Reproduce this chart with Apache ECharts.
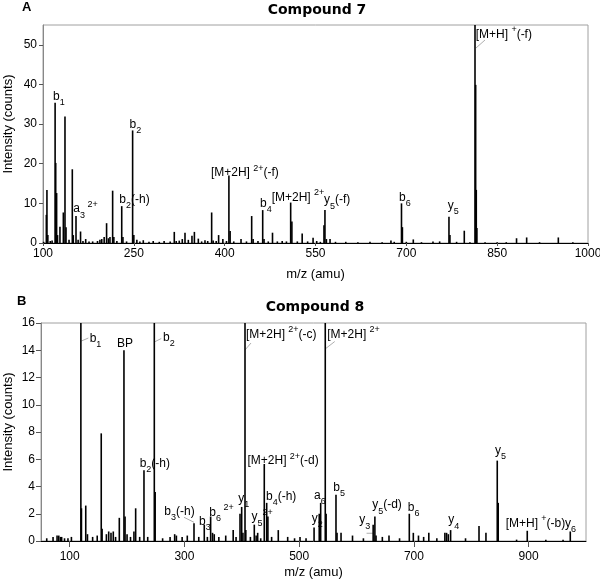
<!DOCTYPE html>
<html><head><meta charset="utf-8">
<script src="https://cdn.jsdelivr.net/npm/echarts@6/dist/echarts.min.js"></script>
<style>html,body{margin:0;padding:0;background:#fff}#c{width:600px;height:580px}</style>
</head><body><div id="c"></div>
<script>
// ---------- Panel A (Compound 7): [m/z, intensity] ----------
const peaksA = [
 [101,0.3],[105.5,7.1],[106.5,13.4],[108,2.0],[112,0.5],[115,0.6],[120,35.4],[121,20.2],[122.5,12.6],[124,2.0],
 [128,4.1],[133.6,7.7],[136.3,31.9],[138,4.0],[143,0.8],[148.4,18.6],[150,2.0],[154.5,6.8],[158,0.8],[162,2.9],
 [166,0.5],[170.5,1.0],[176,0.4],[182,0.4],[190,0.5],[194,0.8],[197,1.0],[201,1.5],[205,5.0],[208,1.2],
 [210.6,1.5],[215,13.2],[217,1.5],[222,0.5],[230,9.3],[232,1.5],[238,0.4],[248,28.4],[250,2.0],[255,0.8],
 [260,0.4],[265.6,0.7],[275,0.3],[282,0.5],[292,0.3],[300,0.5],[310,0.4],[316.8,2.8],[320,0.5],[325,0.6],
 [330,1.0],[334.5,2.6],[340,0.8],[346,1.8],[350,2.8],[356.5,1.1],[362,0.4],[367.5,0.7],[372,0.5],[378.5,7.7],
 [381,0.6],[386,0.5],[390,2.0],[397,1.0],[403,0.5],[407,17.0],[409,3.0],[415,0.4],[427,1.0],[436,0.4],
 [444.6,6.8],[447,1.0],[455,0.5],[462.8,8.3],[465,1.0],[472,0.4],[479,2.6],[487,0.4],[495,0.5],[502,0.4],
 [509,10.2],[511,5.4],[520,0.4],[528,2.4],[537,0.4],[546,1.3],[552,0.5],[558,0.3],[564,4.5],[565.6,8.3],
 [568,1.0],[574,1.0],[583,0.3],[600,0.3],[620,0.2],[640,0.3],[660,0.2],[674.6,0.6],[680,0.3],[692,10.0],
 [693.5,4.0],[700,0.3],[711.5,0.9],[725,0.2],[744,0.4],[755,0.4],[770.4,6.6],[772,2.0],[783,0.3],[795.7,3.1],
 [805,0.2],[813.4,60],[814.5,39.9],[815.5,13.4],[816.5,3.8],[830,0.2],[850,0.2],[865,0.2],[882,1.2],[898.7,1.4],
 [920,0.2],[951,1.4],[975,0.2]
];
const ticksXA = [100,250,400,550,700,850,1000];
const ticksYA = [0,10,20,30,40,50];
const annMzA  = [120, 248, 407, 230, 154.5, 462.8, 509, 565.6, 692, 770.4, 813.4];
const annIntA = [35.4, 28.4, 17.0, 9.3, 6.8, 8.3, 10.2, 8.3, 10.0, 6.6, 60];
const annTextA = ['b{s|1}','b{s|2}','[M+2H] {p|2+}(-f)','b{s|2}(-h)','a{s|3}{p| 2+}','b{s|4}','[M+2H] {p|2+}','y{s|5}(-f)','b{s|6}','y{s|5}','[M+H] {p|+}(-f)'];

// ---------- Panel B (Compound 8): [m/z, intensity] ----------
const peaksB = [
 [60,0.2],[71,0.3],[78,0.4],[81,0.4],[84,0.3],[86,0.3],[91,0.2],[97,0.2],[103,0.3],[119.5,30],
 [120.5,2.4],[128,2.6],[131,0.5],[140,0.3],[148,0.4],[155,7.9],[156.5,0.9],[164,0.5],[168,0.7],[172,0.6],
 [176,0.7],[180,0.3],[186.5,1.7],[194.6,14.0],[196.5,1.8],[200,0.5],[206,0.3],[212,0.7],[215,2.4],[222,0.3],
 [229.5,5.2],[236,0.3],[247.5,25],[249,3.6],[262,0.2],[275,0.3],[283,0.5],[286,0.4],[296,0.3],[305,0.4],
 [316.7,1.3],[325,0.3],[334.6,1.2],[340,0.3],[345.7,1.8],[349,0.6],[352,0.5],[360,0.3],[372,0.4],[385,0.8],
 [390,0.3],[396.9,2.0],[399.8,2.5],[402,0.6],[405.6,30],[407,0.8],[415,0.3],[421.8,1.2],[425,0.4],[427.7,0.6],
 [433,0.2],[439.2,5.65],[443.4,2.8],[445.5,1.8],[452,0.3],[463.6,0.8],[480,0.3],[492,0.2],[501.5,0.3],[512,0.2],
 [526,1.0],[535,2.0],[537.5,2.8],[545.5,35],[547,2.0],[564.2,3.4],[566,0.6],[573,0.6],[593,0.4],[612,0.2],
 [629,1.2],[632,1.8],[634,0.4],[645,0.3],[656.6,0.4],[675,0.2],[692,2.0],[699,0.6],[708,0.4],[717,0.3],
 [726,0.6],[740,0.2],[754,0.6],[757,0.6],[760,0.5],[764,0.8],[790,0.2],[813.5,1.1],[825.6,0.6],[845.3,5.9],
 [847,2.8],[879,0.1],[897.6,0.75],[930,0.1],[960,0.1],[972.6,0.7]
];
const ticksXB = [100,300,500,700,900];
const ticksYB = [0,2,4,6,8,10,12,14,16];
const annMzB  = [119.5, 194.6, 247.5, 405.6, 545.5, 439.2, 229.5, 316.7, 334.6, 345.7, 399.8, 421.8, 443.4, 537.5, 526, 564.2, 629, 632, 692, 764, 845.3, 897.6, 972.6];
const annIntB = [30, 14.0, 25, 30, 35, 5.65, 5.2, 1.3, 1.2, 1.8, 2.5, 1.2, 2.8, 2.8, 1.0, 3.4, 1.2, 1.8, 2.0, 0.8, 5.9, 0.75, 0.7];
const annTextB = ['b{s|1}','BP','b{s|2}','[M+2H] {p|2+}(-c)','[M+2H] {p|2+}','[M+2H] {p|2+}(-d)','b{s|2}(-h)','b{s|3}(-h)','b{s|3}','b{s|6}{p| 2+}','y{s|1}','y{s|5}{p|2+}','b{s|4}(-h)','a{s|6}','y{s|2}','b{s|5}','y{s|3}','y{s|5}(-d)','b{s|6}','y{s|4}','y{s|5}','[M+H] {p|+}(-b)','y{s|6}'];

// ---------- annotation placement (pixel offsets from peak top; optional leader line) ----------
const layoutA = [[-2,-6.4],[-3,-5.8],[-18,-2.6],[-2.4,-6.5],[-2.7,-7],[-2.6,-6.4],[-19,-5],[-1,-10],[-2.5,-5.8],[-1.3,-11],[0.7,9.5,[1,23,10,15]]];
const layoutB = [[8.8,15.6,[0.5,18,7.5,15]],[-7,-6.6],[8.7,14.6,[0,19,7,15.5]],[1,12,[0,27,6,20]],[2,12,[0.5,25.5,9.5,18.5]],
 [-16.8,-3],[-4.3,-6.6],[-29.7,-12,[-10,-6,0,-1]],[-5.3,-3.4],[-1.4,-3.6],[-3.3,-8],[-2.7,-7.5],[-0.7,-6.5],[-6.6,-7.6],[-2.4,-8.4],
 [-2.7,-7],[-14,-4.5,[-6.6,8.6,0,8.6]],[-2.7,-11.3],[-1.6,-6],[-2.3,-10],[-2.2,-10.4],[-21.6,-6.8],[-5.3,-7.5]];

const FONT = '"Liberation Sans", Arial, sans-serif';
const RICH = {
  s: { font: '9px ' + FONT, fill: '#000', padding: [12, 0, 0, 0] },
  p: { font: '9px ' + FONT, fill: '#000', padding: [0, 0, 10, 0] }
};

function annRender(texts, layout, yMax) {
  return function (params, api) {
    const i = params.dataIndex;
    const p = api.coord([api.value(0), Math.min(api.value(1), yMax)]);
    const L = layout[i];
    const children = [{
      type: 'text', x: p[0] + L[0], y: p[1] + L[1], silent: true,
      style: { text: texts[i], fill: '#000', font: '12px ' + FONT, align: 'left', verticalAlign: 'middle', rich: RICH }
    }];
    if (L[2]) {
      children.push({ type: 'line', silent: true,
        shape: { x1: p[0] + L[2][0], y1: p[1] + L[2][1], x2: p[0] + L[2][2], y2: p[1] + L[2][3] },
        style: { stroke: '#999', lineWidth: 0.8 } });
    }
    return { type: 'group', children };
  };
}

function xAxisCfg(gi, min, max, ticks, tickLen, margin) {
  return {
    type: 'value', gridIndex: gi, min, max,
    name: 'm/z (amu)', nameLocation: 'middle', nameGap: 25,
    nameTextStyle: { fontFamily: FONT, fontSize: 13, color: '#000' },
    axisLine: { show: true, onZero: false, lineStyle: { color: '#000', width: 1 } },
    axisTick: { show: true, customValues: ticks, length: tickLen, lineStyle: { color: '#555' } },
    axisLabel: { customValues: ticks, margin, fontFamily: FONT, fontSize: 12, color: '#000', formatter: v => String(v) },
    splitLine: { show: false }
  };
}
function yAxisCfg(gi, max, ticks, tickLen) {
  return {
    type: 'value', gridIndex: gi, min: 0, max,
    axisLine: { show: true, lineStyle: { color: '#888', width: 1 } },
    axisTick: { show: true, customValues: ticks, length: tickLen, lineStyle: { color: '#555' } },
    axisLabel: { customValues: ticks, margin: 6, fontFamily: FONT, fontSize: 12, color: '#000', formatter: v => String(v) },
    splitLine: { show: false }
  };
}

const YMAX_A = 55, YMAX_B = 16;
const chart = echarts.init(document.getElementById('c'), null, { renderer: 'canvas' });
chart.setOption({
  animation: false,
  backgroundColor: '#fff',
  grid: [
    { left: 43, right: 12, top: 25, height: 218, show: true, borderColor: '#a0a0a0', borderWidth: 1, backgroundColor: 'transparent', containLabel: false, outerBoundsMode: 'none' },
    { left: 41, right: 14, top: 323, height: 218, show: true, borderColor: '#a0a0a0', borderWidth: 1, backgroundColor: 'transparent', containLabel: false, outerBoundsMode: 'none' }
  ],
  xAxis: [xAxisCfg(0, 100, 1000, ticksXA, 3, 5), xAxisCfg(1, 50, 1000, ticksXB, 6, 10)],
  yAxis: [yAxisCfg(0, YMAX_A, ticksYA, 4), yAxisCfg(1, YMAX_B, ticksYB, 5)],
  series: [
    { type: 'bar', xAxisIndex: 0, yAxisIndex: 0, data: peaksA, barWidth: 1.6, clip: true,
      itemStyle: { color: '#000' }, silent: true },
    { type: 'bar', xAxisIndex: 1, yAxisIndex: 1, data: peaksB, barWidth: 1.6, clip: true,
      itemStyle: { color: '#000' }, silent: true },
    { type: 'custom', xAxisIndex: 0, yAxisIndex: 0, clip: false, silent: true,
      data: annMzA.map((m, i) => [m, annIntA[i]]), renderItem: annRender(annTextA, layoutA, YMAX_A) },
    { type: 'custom', xAxisIndex: 1, yAxisIndex: 1, clip: false, silent: true,
      data: annMzB.map((m, i) => [m, annIntB[i]]), renderItem: annRender(annTextB, layoutB, YMAX_B) }
  ],
  graphic: [
    { type: 'text', x: 22, y: 1, style: { text: 'A', font: 'bold 13px ' + FONT, fill: '#000' } },
    { type: 'text', x: 17, y: 295, style: { text: 'B', font: 'bold 13px ' + FONT, fill: '#000' } },
    { type: 'text', x: 317, y: 10, style: { text: 'Compound 7', font: 'bold 14px "DejaVu Sans"', fill: '#000', align: 'center', verticalAlign: 'middle' } },
    { type: 'text', x: 315, y: 307, style: { text: 'Compound 8', font: 'bold 14px "DejaVu Sans"', fill: '#000', align: 'center', verticalAlign: 'middle' } },
    { type: 'text', x: 8, y: 124, rotation: Math.PI / 2, style: { text: 'Intensity (counts)', font: '13px ' + FONT, fill: '#000', align: 'center', verticalAlign: 'middle' } },
    { type: 'text', x: 8, y: 422, rotation: Math.PI / 2, style: { text: 'Intensity (counts)', font: '13px ' + FONT, fill: '#000', align: 'center', verticalAlign: 'middle' } }
  ]
});
</script>
</body></html>
